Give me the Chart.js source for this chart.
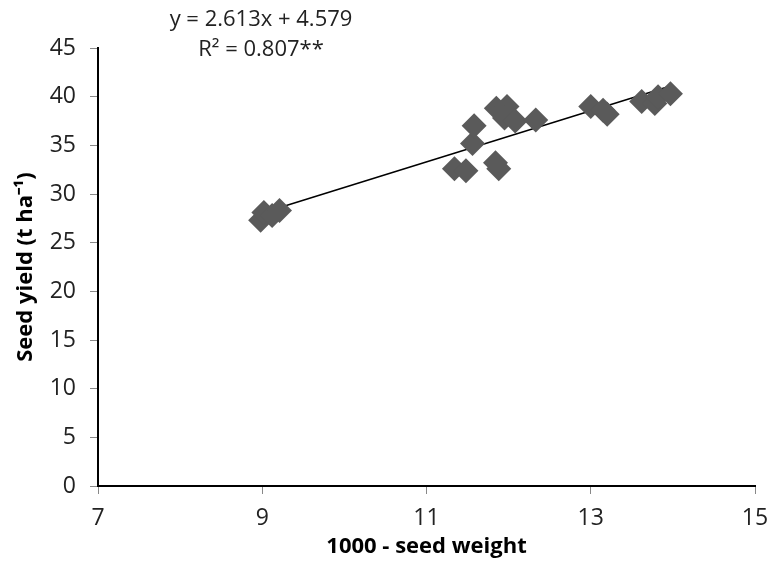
<!DOCTYPE html>
<html>
<head>
<meta charset="utf-8">
<script src="https://cdn.jsdelivr.net/npm/chart.js@4/dist/chart.umd.min.js"></script>
<style>
  html, body { margin: 0; padding: 0; background: #fff; }
  #wrap { width: 773px; height: 576px; }
</style>
</head>
<body>
<div id="wrap"><canvas id="chart"></canvas></div>
<script>
// seed weight vs yield
const seedWeight = [8.98, 9.02, 9.12, 9.21, 11.34, 11.48, 11.56, 11.58, 11.84, 11.88, 11.85, 11.98, 11.95, 12.08, 12.33, 13.0, 13.15, 13.2, 13.62, 13.78, 13.82, 13.97];
const seedYield = [27.3, 28.1, 27.8, 28.3, 32.6, 32.4, 35.2, 37.0, 33.2, 32.6, 38.8, 39.0, 37.8, 37.5, 37.6, 39.0, 38.6, 38.2, 39.5, 39.3, 40.0, 40.3];

// linear trend drawn between its two ends
const trendX = [8.98, 13.97];
const trendY = [28.0, 41.1];

const xTicks = [7, 9, 11, 13, 15];
const yTicks = [0, 5, 10, 15, 20, 25, 30, 35, 40, 45];

const equationLines = ['y = 2.613x + 4.579', 'R\u00B2 = 0.807**'];

const FONT = "'Open Sans', 'Liberation Sans', sans-serif";

const equationLabel = {
    id: 'equationLabel',
    afterDraw(chart) {
        const ctx = chart.ctx;
        ctx.save();
        ctx.font = '22px ' + FONT;
        ctx.fillStyle = '#222';
        ctx.textAlign = 'center';
        ctx.textBaseline = 'middle';
        ctx.fillText(equationLines[0], 261, 20);
        ctx.fillText(equationLines[1], 261, 50);
        ctx.restore();
    }
};

const points = seedWeight.map((x, i) => ({ x, y: seedYield[i] }));
const trend = trendX.map((x, i) => ({ x, y: trendY[i] }));

new Chart(document.getElementById('chart'), {
    type: 'scatter',
    data: {
        datasets: [
            {
                label: 'Seed yield',
                data: points,
                pointStyle: 'rectRot',
                pointRadius: 12.5,
                pointHoverRadius: 12.5,
                backgroundColor: '#5a5a5a',
                borderColor: '#5a5a5a',
                borderWidth: 0
            },
            {
                label: 'Trend',
                type: 'line',
                data: trend,
                borderColor: '#000',
                borderWidth: 1.5,
                pointRadius: 0,
                fill: false
            }
        ]
    },
    options: {
        responsive: true,
        maintainAspectRatio: false,
        animation: false,
        layout: { padding: { top: 48, right: 18, left: 0, bottom: 0 } },
        plugins: {
            legend: { display: false },
            tooltip: { enabled: false }
        },
        scales: {
            x: {
                type: 'linear',
                min: 7,
                max: 15,
                afterBuildTicks: axis => { axis.ticks = xTicks.map(v => ({ value: v })); },
                afterFit: axis => { axis.height = 90; axis.paddingRight = 0; axis.paddingLeft = 0; },
                grid: { drawOnChartArea: false, drawTicks: true, tickLength: 8, color: '#888' },
                border: { color: '#000', width: 2 },
                ticks: { color: '#222', font: { family: FONT, size: 23 }, padding: 11 },
                title: {
                    display: true,
                    text: '1000 - seed weight',
                    color: '#000',
                    font: { family: FONT, size: 22, weight: 'bold' },
                    padding: { top: 16, bottom: 16 }
                }
            },
            y: {
                min: 0,
                max: 45,
                afterBuildTicks: axis => { axis.ticks = yTicks.map(v => ({ value: v })); },
                afterFit: axis => { axis.width = 98; },
                grid: { drawOnChartArea: false, drawTicks: true, tickLength: 8, color: '#888' },
                border: { color: '#000', width: 2 },
                ticks: { color: '#222', font: { family: FONT, size: 23 }, padding: 14 },
                title: {
                    display: true,
                    text: 'Seed yield (t ha\u207B\u00B9)',
                    color: '#000',
                    font: { family: FONT, size: 22, weight: 'bold' },
                    padding: { top: 13, bottom: 13 }
                }
            }
        }
    },
    plugins: [equationLabel]
});
</script>
</body>
</html>
